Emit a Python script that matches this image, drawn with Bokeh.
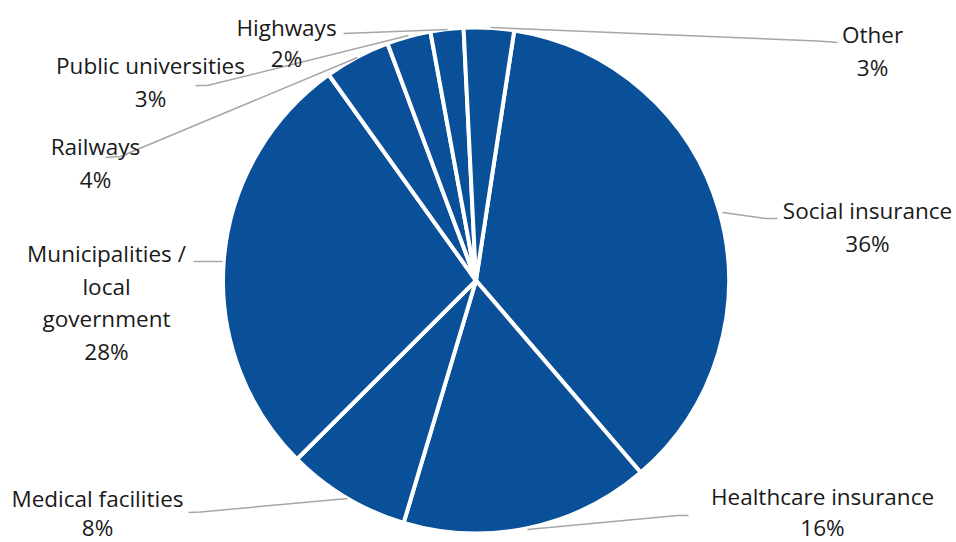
import math
from bokeh.plotting import figure
from bokeh.models import Range1d
from bokeh.core.properties import value
from bokeh.embed import file_html
from bokeh.resources import INLINE

# ---- data (clockwise order, starting with Social insurance) ----
categories = [
    "Social insurance",
    "Healthcare insurance",
    "Medical facilities",
    "Municipalities /\nlocal\ngovernment",
    "Railways",
    "Public universities",
    "Highways",
    "Other",
]
shares = [36.3, 15.9, 7.9, 27.6, 4.2, 2.8, 2.1, 3.2]

# ---- style / layout ----
W, H = 956, 542
PIE_COLOR = "#0A5098"
LEADER_COLOR = "#A6A6A6"
TEXT_COLOR = "#1A1A1A"
FONT = "Open Sans"
FONT_SIZE = "22.5px"
LINE_STEP = 32.5
CX, CY, R = 475.5, 280.0, 253.0
FIRST_ANGLE = 8.7  # degrees clockwise from 12 o'clock

# label anchor (center x, first line y, line step) in page pixels
label_pos = [
    (867, 210, LINE_STEP),
    (822, 496, 31),
    (97, 498, 29),
    (106, 253, LINE_STEP),
    (95, 146, LINE_STEP),
    (150, 65, LINE_STEP),
    (286, 27, 31),
    (872, 34, 33),
]
# leader polylines in page pixels
leaders = [
    [(722, 212), (765, 218), (777, 218)],
    [(527, 529), (677, 515), (688, 515)],
    [(188, 512), (200, 511.5), (347, 498)],
    [(193, 261), (222, 261)],
    [(357, 57), (120, 156), (105, 157)],
    [(408, 35), (207, 85), (195, 85)],
    [(447, 29), (343, 33)],
    [(490, 27), (817, 40.5), (837, 42)],
]

p = figure(width=W, height=H, output_backend="svg", toolbar_location=None,
           x_range=Range1d(0, W), y_range=Range1d(-H, 0),
           x_axis_type=None, y_axis_type=None, min_border=0,
           outline_line_color=None, background_fill_color="white",
           border_fill_color="white")
p.grid.visible = False

total = sum(shares)
starts, ends = [], []
acc = FIRST_ANGLE
for v in shares:
    th1 = acc
    th2 = acc + v / total * 360.0
    acc = th2
    starts.append(math.radians(90 - th2))
    ends.append(math.radians(90 - th1))

p.wedge(x=[CX] * len(shares), y=[-CY] * len(shares), radius=R,
        start_angle=starts, end_angle=ends,
        fill_color=PIE_COLOR, line_color="white", line_width=4)

p.multi_line(xs=[[pt[0] for pt in L] for L in leaders],
             ys=[[-pt[1] for pt in L] for L in leaders],
             line_color=LEADER_COLOR, line_width=1.5)

tx, ty, tt = [], [], []
for cat, v, (lx, ly, step) in zip(categories, shares, label_pos):
    lines = cat.split("\n") + [f"{round(v)}%"]
    for i, s in enumerate(lines):
        tx.append(lx)
        ty.append(-(ly + i * step))
        tt.append(s)

p.text(x=tx, y=ty, text=tt, text_align="center", text_baseline="middle",
       text_font=value(FONT), text_font_size=FONT_SIZE, text_color=TEXT_COLOR)

open("out.html", "w").write(file_html(p, INLINE))
